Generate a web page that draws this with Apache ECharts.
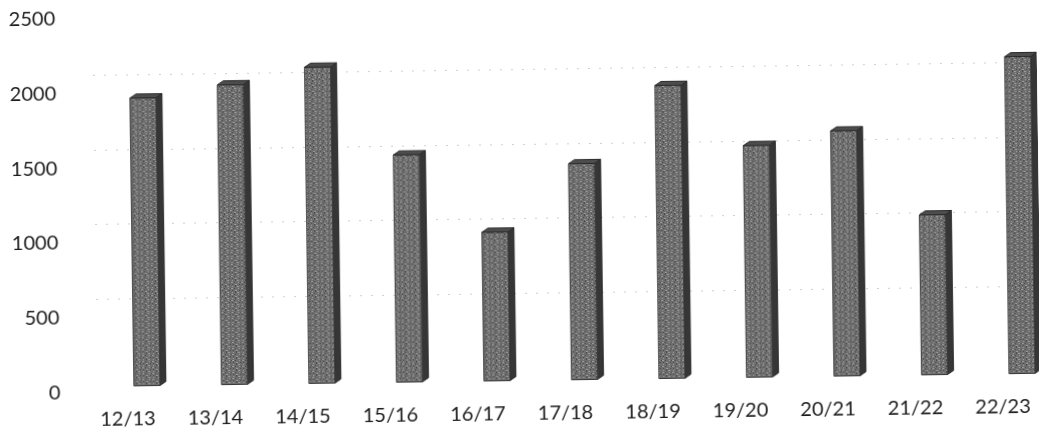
<!DOCTYPE html>
<html>
<head>
<meta charset="utf-8">
<script src="https://cdn.jsdelivr.net/npm/echarts@6/dist/echarts.min.js"></script>
<style>
  html, body { margin: 0; padding: 0; background: #ffffff; overflow: hidden; }
  #chart { width: 1039px; height: 435px; transform: rotate(-0.8deg); transform-origin: 50% 50%; }
</style>
</head>
<body>
<div id="chart"></div>
<script>
// Seasons along the category axis
const seasons = ['12/13', '13/14', '14/15', '15/16', '16/17', '17/18', '18/19', '19/20', '20/21', '21/22', '22/23'];
// Column heights per season
const totals = [1925, 2005, 2115, 1520, 995, 1445, 1960, 1550, 1640, 1070, 2120];
// Value axis ticks
const valueTicks = [0, 500, 1000, 1500, 2000, 2500];

const FONT = 'Lato, "Liberation Sans", sans-serif';
const TEXT = '#1c1c1c';

// Small streaked fill for the column faces
function makeStreakFill(base, light, dark) {
  const rows = [
    '.L..D.LL..',
    '..........',
    'LL.D...L.D',
    '..........',
    '.D..LL..D.',
    '....D.....'
  ];
  const c = document.createElement('canvas');
  c.width = rows[0].length;
  c.height = rows.length;
  const g = c.getContext('2d');
  g.fillStyle = base;
  g.fillRect(0, 0, c.width, c.height);
  rows.forEach((r, y) => {
    for (let x = 0; x < r.length; x++) {
      if (r[x] === 'L') { g.fillStyle = light; g.fillRect(x, y, 1, 1); }
      if (r[x] === 'D') { g.fillStyle = dark; g.fillRect(x, y, 1, 1); }
    }
  });
  return { image: c, repeat: 'repeat' };
}
const frontFill = makeStreakFill('#6e6e6e', '#9c9c9c', '#4a4a4a');

const chart = echarts.init(document.getElementById('chart'), null, { renderer: 'canvas' });

// Extruded column: front face, right side face and top face
function renderColumn(params, api) {
  const idx = api.value(0);
  const val = api.value(1);
  const base = api.coord([idx, 0]);
  const top = api.coord([idx, val]);
  const shiftX = 19.5;   // columns sit slightly right of the label
  const lift = 6;        // columns stand in the middle of the floor depth
  const w = 26;          // front face width
  const dx = 6, dy = -4; // depth of the extrusion
  const x0 = base[0] + shiftX - w / 2;
  const x1 = x0 + w;
  const yb = base[1] - lift;
  const yt = top[1] - lift;
  return {
    type: 'group',
    children: [
      {
        type: 'polygon',
        shape: { points: [[x1, yt], [x1 + dx, yt + dy], [x1 + dx, yb + dy], [x1, yb]] },
        style: { fill: '#363636', stroke: '#2a2a2a', lineWidth: 1 }
      },
      {
        type: 'rect',
        shape: { x: x0, y: yt, width: w, height: yb - yt },
        style: { fill: frontFill, stroke: '#3a3a3a', lineWidth: 1 }
      },
      {
        type: 'polygon',
        shape: { points: [[x0, yt], [x0 + dx, yt + dy], [x1 + dx, yt + dy], [x1, yt]] },
        style: { fill: '#4d4d4d', stroke: '#2a2a2a', lineWidth: 1 }
      }
    ]
  };
}

chart.setOption({
  animation: false,
  backgroundColor: '#ffffff',
  grid: [
    { left: 81.4, top: 12.7, width: 962.7, height: 373.8, containLabel: false, outerBoundsMode: 'none' },
    // back wall carrying the faint gridlines
    { left: 95, top: -5.7, width: 940, height: 373.8, containLabel: false, outerBoundsMode: 'none' }
  ],
  xAxis: [
    {
      type: 'category',
      gridIndex: 0,
      data: seasons,
      boundaryGap: true,
      axisLine: { show: false },
      axisTick: { show: false },
      axisLabel: { margin: 17, fontFamily: FONT, fontSize: 20, color: TEXT, interval: 0 }
    },
    {
      type: 'value',
      gridIndex: 1,
      show: false
    }
  ],
  yAxis: [
    {
      type: 'value',
      gridIndex: 0,
      min: valueTicks[0],
      max: valueTicks[valueTicks.length - 1],
      interval: 500,
      axisLine: { show: false },
      axisTick: { show: false },
      splitLine: { show: false },
      axisLabel: {
        margin: 23.4, fontFamily: FONT, fontSize: 20, color: TEXT,
        formatter: (v) => String(v)
      }
    },
    {
      type: 'value',
      gridIndex: 1,
      min: valueTicks[0],
      max: valueTicks[valueTicks.length - 1],
      interval: 500,
      axisLine: { show: false },
      axisTick: { show: false },
      axisLabel: { show: false },
      splitLine: {
        show: true, showMaxLine: false, showMinLine: false,
        lineStyle: { color: '#cfcfcf', width: 1, type: [2, 9] }
      }
    }
  ],
  series: [
    {
      type: 'custom',
      xAxisIndex: 0,
      yAxisIndex: 0,
      renderItem: renderColumn,
      data: totals.map((v, i) => [i, v])
    }
  ]
});
</script>
</body>
</html>
